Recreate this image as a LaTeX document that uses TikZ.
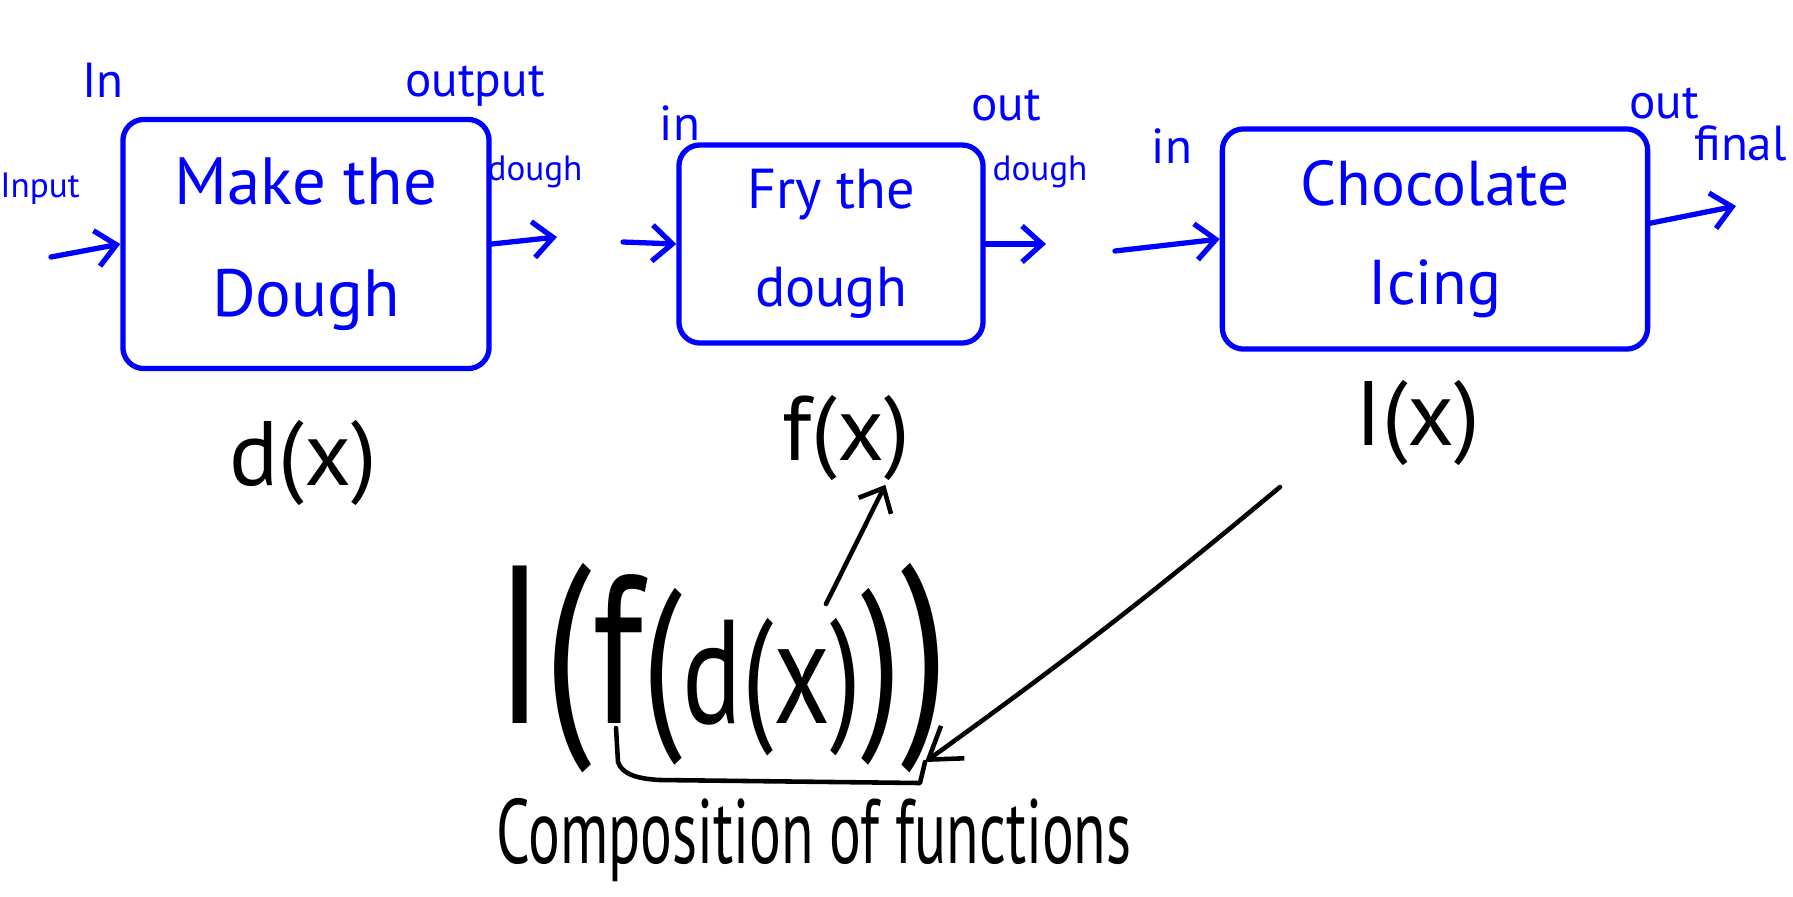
\documentclass[tikz,border=0pt]{standalone}
\usepackage{fontspec}
\setmainfont{PT Sans}
\newfontfamily\narrowfont[FakeStretch=0.65]{PT Sans}
\newfontfamily\formulafont[FakeStretch=0.75]{PT Sans}
\usetikzlibrary{arrows.meta}

\begin{document}
\begin{tikzpicture}[x=0.01cm,y=-0.01cm,line cap=round,line join=round,
  >={Straight Barb[length=2mm,width=3.6mm]},
  stage/.style={draw=blue,line width=1.5pt,rounded corners=6pt,text=blue,align=center,inner sep=0pt},
  flow/.style={->,draw=blue,line width=1.5pt},
  tag/.style={text=blue,inner sep=1pt,font=\fontsize{14}{16}\selectfont},
  smalltag/.style={text=blue,inner sep=1pt,font=\fontsize{10}{12}\selectfont},
  fn/.style={inner sep=1pt,font=\fontsize{26}{28}\selectfont},
  link/.style={->,line width=1.3pt}]
\useasboundingbox (0,0) rectangle (1793,896);

% the three steps
\node[stage,minimum width=36.6mm,minimum height=24.9mm,font=\fontsize{19}{32}\selectfont] (dough) at (306,244) {Make the\\Dough};
\node[stage,minimum width=30.4mm,minimum height=19.8mm,font=\fontsize{16}{28}\selectfont] (fry) at (831,244) {Fry the\\dough};
\node[stage,minimum width=42.5mm,minimum height=22mm,font=\fontsize{18}{28}\selectfont] (icing) at (1435,239) {Chocolate\\Icing};

% inputs and outputs
\coordinate (raw) at (51,257);
\coordinate (o1) at (557,237);
\coordinate (i2) at (623,242);
\coordinate (o2) at (1046,244);
\coordinate (i3) at (1115,251);
\coordinate (o3) at (1736,206);
\draw[flow] (raw) -- (dough.west);
\draw[flow] (dough.east) -- (o1);
\draw[flow] (i2) -- (fry.west);
\draw[flow] (fry.east) -- (o2);
\draw[flow] (i3) -- (icing.west);
\draw[flow] ([yshift=4.5pt]icing.east) -- (o3);

\node[tag] (in1) at (103,80) {In};
\node[tag] (out1) at (475,86) {output};
\node[smalltag] (raw label) at (40,189) {Input};
\node[smalltag] (o1 label) at (535,172) {dough};
\node[tag] (in2) at (680,123) {in};
\node[tag] (out2) at (1006,105) {out};
\node[smalltag] (o2 label) at (1040,172) {dough};
\node[tag] (in3) at (1172,146) {in};
\node[tag] (out3) at (1664,103) {out};
\node[tag,anchor=east] (o3 label) at (1791,143) {final};

% functions
\node[fn] (dx) at (303,463) {d(x)};
\node[fn] (fx) at (846,438) {f(x)};
\node[fn] (ix) at (1418,423) {I(x)};

\node[inner sep=0pt,font=\formulafont\fontsize{64}{70}\selectfont] (comp) at (722,668)
  {I{\fontsize{64}{64}\selectfont(}{\fontsize{60}{60}\selectfont f}{\fontsize{54}{54}\selectfont(}{\fontsize{42}{44}\selectfont d(x)}{\fontsize{54}{54}\selectfont)}{\fontsize{64}{64}\selectfont)}};
\node[inner sep=0pt,font=\narrowfont\fontsize{26}{28}\selectfont] (note) at (814,840) {Composition of functions};

\coordinate (ftail) at (826,604);
\coordinate (itail) at (1280,487);
\coordinate (corner) at (925,762);
\draw[link] (ftail) -- (fx.-50);
\draw[line width=1.3pt] (616,728) -- (618,762) .. controls (622,775) and (640,779) .. (660,780) -- (920,783) -- (corner);
\draw[link,>={Straight Barb[length=3mm,width=4mm]}] (itail) to[bend left=2] (corner);
\end{tikzpicture}
\end{document}
